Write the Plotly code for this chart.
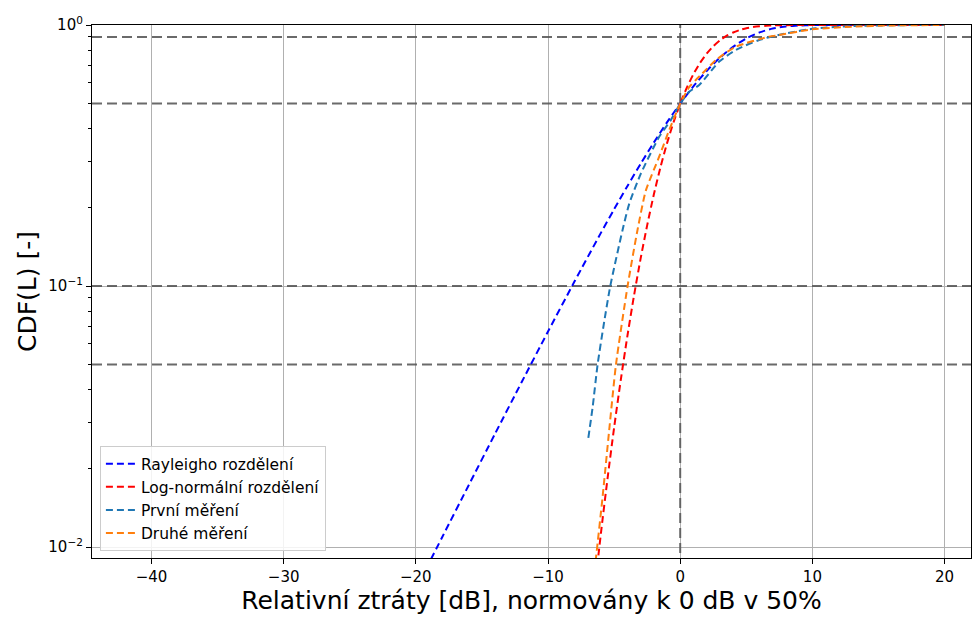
import plotly.graph_objects as go
import math

# ---------------- data ----------------
rayleigh_x = [-20, -18, -16, -14, -12, -10, -8, -6, -5, -4, -3, -2, -1, 0,
              1, 2, 3, 4, 5, 6, 7, 8, 9, 10, 12, 15, 20]
rayleigh_y = [0.00691, 0.01093, 0.01726, 0.02722, 0.04279, 0.06696, 0.1040,
              0.1598, 0.1968, 0.2412, 0.2935, 0.3543, 0.4234, 0.5,
              0.5821, 0.6667, 0.7492, 0.8247, 0.8883, 0.9367, 0.9690, 0.9874,
              0.9959, 0.9990, 1.0, 1.0, 1.0]

lognorm_x = [-7, -6.5, -6, -5.5, -5, -4.5, -4, -3.5, -3, -2.5, -2, -1.5, -1,
             -0.5, 0, 0.5, 1, 1.5, 2, 2.5, 3, 3.5, 4, 4.5, 5, 5.5, 6, 6.5, 7,
             8, 10, 15, 20]
lognorm_y = [0.00389, 0.00673, 0.01127, 0.01826, 0.02865, 0.04354, 0.0641,
             0.0916, 0.1270, 0.1708, 0.2236, 0.2843, 0.3519, 0.4247, 0.5,
             0.5753, 0.6481, 0.7157, 0.7764, 0.8292, 0.8730, 0.9084, 0.9359,
             0.9565, 0.9714, 0.9817, 0.9887, 0.9933, 0.9961, 0.9988, 0.9999,
             1.0, 1.0]

meas1_x = [-6.95, -6.62, -6.25, -5.75, -5.29, -4.36, -3.85, -2.97, -1.59,
           -0.70, 0, 0.68, 1.44, 2.95, 4.21, 5.97, 7.99, 10.26, 13, 16, 20]
meas1_y = [0.0262, 0.0345, 0.05, 0.073, 0.1, 0.164, 0.207, 0.270, 0.373,
           0.433, 0.5, 0.555, 0.589, 0.724, 0.802, 0.876, 0.929, 0.971,
           0.99, 0.998, 1.0]

meas2_x = [-6.5, -6.37, -5.87, -5.37, -4.86, -3.98, -3.23, -2.59, -1.59,
           -0.83, 0, 0.7, 1.18, 1.69, 2.7, 4.21, 6.73, 7.48, 10.0, 13, 16, 20]
meas2_y = [0.0080, 0.0091, 0.0156, 0.0281, 0.05, 0.1, 0.164, 0.233, 0.313,
           0.396, 0.5, 0.58, 0.616, 0.653, 0.734, 0.826, 0.902, 0.915, 0.963,
           0.985, 0.996, 1.0]

ref_levels = [0.9, 0.5, 0.1, 0.05]
ref_x0 = 0

series_names = ["Rayleigho rozdělení", "Log-normální rozdělení",
                "První měření", "Druhé měření"]
series_colors = ["#0000ff", "#ff0000", "#1f77b4", "#ff7f0e"]

x_ticks = [-40, -30, -20, -10, 0, 10, 20]
x_ticktext = ["−40", "−30", "−20", "−10", "0", "10", "20"]
y_ticks = [0.01, 0.1, 1]
y_ticktext = ["10<sup>−2</sup>", "10<sup>−1</sup>", "10<sup>0</sup>"]
y_minor = [m * d for d in (0.01, 0.1) for m in range(2, 10)]

x_range = [-44.5, 22]
y_range = [0.00908, 1.0]

fig = go.Figure()

ref_style = dict(color="rgba(90,90,90,0.9)", width=2, dash="10px,5px")
for lv in ref_levels:
    fig.add_trace(go.Scatter(x=x_range, y=[lv, lv], mode="lines",
                             line=ref_style, showlegend=False, hoverinfo="skip"))
fig.add_trace(go.Scatter(x=[ref_x0, ref_x0], y=[0.001, 1.5], mode="lines",
                         line=ref_style, showlegend=False, hoverinfo="skip"))

for xs, ys, name, col in zip([rayleigh_x, lognorm_x, meas1_x, meas2_x],
                             [rayleigh_y, lognorm_y, meas1_y, meas2_y],
                             series_names, series_colors):
    fig.add_trace(go.Scatter(x=xs, y=ys, mode="lines", name=name,
                             line=dict(color=col, width=2, dash="7px,4px",
                                       shape="spline", smoothing=0.6)))

fig.update_layout(
    width=972, height=617,
    margin=dict(l=92, r=1, t=25, b=59),
    paper_bgcolor="white", plot_bgcolor="white",
    font=dict(family="DejaVu Sans", size=15, color="black"),
    legend=dict(x=0.009, y=0.013, xanchor="left", yanchor="bottom",
                bgcolor="rgba(255,255,255,0.85)", bordercolor="#cccccc",
                borderwidth=1, font=dict(size=15.5), itemwidth=30),
)
fig.update_xaxes(
    range=x_range, tickvals=x_ticks, ticktext=x_ticktext,
    tickfont=dict(size=15),
    showgrid=True, gridcolor="#b0b0b0", gridwidth=1,
    showline=True, linecolor="black", linewidth=1.2, mirror=True,
    ticks="outside", ticklen=5, tickcolor="black", zeroline=False,
    title=dict(text="Relativní ztráty [dB], normovány k 0 dB v 50%",
               font=dict(size=25), standoff=4),
)
fig.update_yaxes(
    type="log", range=[math.log10(y_range[0]), math.log10(y_range[1])],
    tickvals=y_ticks, ticktext=y_ticktext, tickfont=dict(size=15),
    showgrid=True, gridcolor="#b0b0b0", gridwidth=1,
    showline=True, linecolor="black", linewidth=1.2, mirror=True,
    ticks="outside", ticklen=5, tickcolor="black", zeroline=False,
    minor=dict(tickmode="array", tickvals=y_minor, ticks="outside",
               ticklen=3, tickcolor="black", showgrid=False),
    title=dict(text="CDF(L) [-]", font=dict(size=25), standoff=4),
)

fig.write_html("out.html")
